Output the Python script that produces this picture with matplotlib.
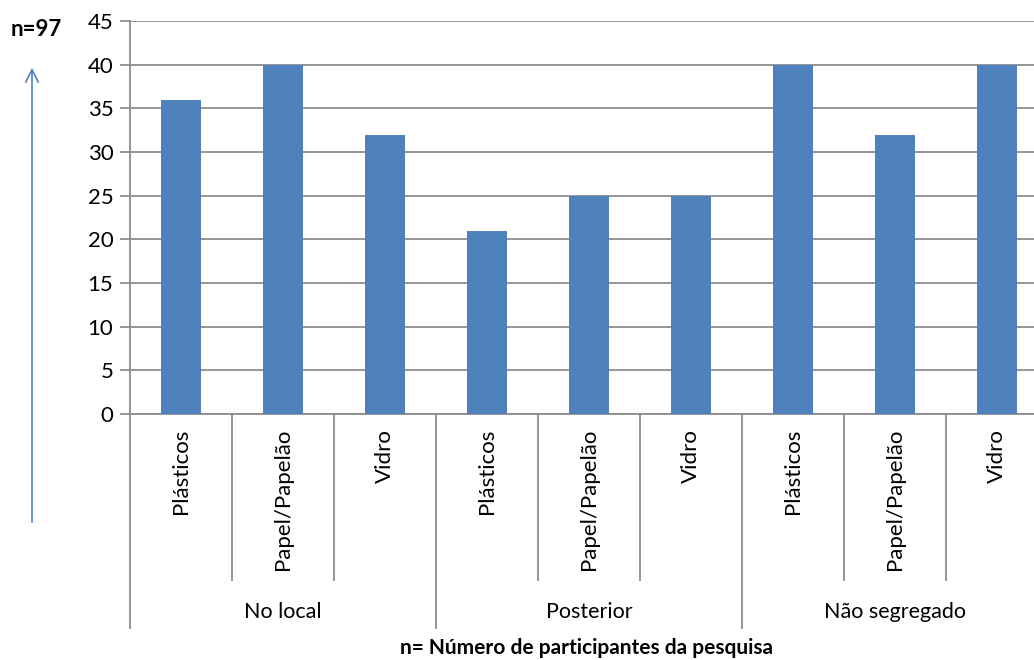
import matplotlib
matplotlib.use("Agg")
import matplotlib.pyplot as plt
import numpy as np

plt.rcParams['font.family'] = ['Lato', 'DejaVu Sans']

groups = ["No local", "Posterior", "Não segregado"]
materials = ["Plásticos", "Papel/Papelão", "Vidro"]
values = [36, 40, 32, 21, 25, 25, 40, 32, 40]

W, H = 1034, 660
fig = plt.figure(figsize=(W / 100, H / 100), dpi=100)
# plot area runs a bit past the right edge, as in the reference
ax = fig.add_axes([130 / W, (H - 414) / H, 918 / W, 393 / H])

x = np.arange(len(values))
ax.bar(x, values, width=0.4, color="#4F81BD", zorder=3)

ax.set_xlim(-0.5, len(values) - 0.5)
ax.set_ylim(0, 45)
ax.set_yticks(np.arange(0, 46, 5))
ax.yaxis.grid(True, color="#8c8c8c", lw=1.3, zorder=0)
ax.tick_params(axis="y", labelsize=16, length=7, width=1.3, color="#8c8c8c", pad=5)
ax.set_xticks([])
for s in ["top", "right"]:
    ax.spines[s].set_visible(False)
ax.spines["left"].set_color("#8c8c8c")
ax.spines["left"].set_linewidth(1.3)
ax.spines["bottom"].set_color("#8c8c8c")
ax.spines["bottom"].set_linewidth(1.3)

trans = ax.get_xaxis_transform()
short_y = (414 - 580) / 393
long_y = (414 - 628) / 393
# category separators
for i in range(len(values) + 1):
    edge = i - 0.5
    bottom = long_y if i % 3 == 0 else short_y
    ax.plot([edge, edge], [0, bottom], transform=trans, color="#8c8c8c",
            lw=1.3, clip_on=False)

# material labels
for i in range(len(values)):
    ax.text(i, (414 - 429) / 393, materials[i % 3], transform=trans,
            rotation=90, ha="center", va="top", fontsize=16)

# group labels
for g, name in enumerate(groups):
    ax.text(g * 3 + 1, (414 - 612) / 393, name, transform=trans,
            ha="center", va="center", fontsize=15.5)

fig.text(587 / W, 1 - 648 / H, "n= Número de participantes da pesquisa",
         ha="center", va="center", fontsize=15, fontweight="bold")
fig.text(36 / W, 1 - 30 / H, "n=97", ha="center", va="center",
         fontsize=16, fontweight="bold")

ax.annotate("", xy=(32, H - 65), xytext=(32, H - 525),
            xycoords="figure pixels", textcoords="figure pixels",
            arrowprops=dict(arrowstyle="->,head_length=0.9,head_width=0.45",
                            color="#4F81BD", lw=1.2),
            annotation_clip=False)

fig.savefig("out.png", dpi=100)
